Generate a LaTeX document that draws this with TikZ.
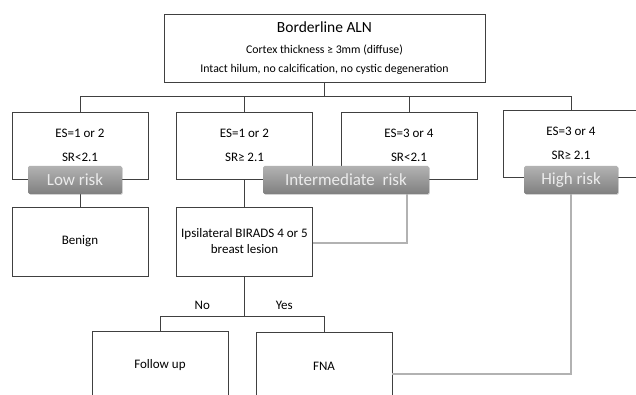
\documentclass[tikz,border=0pt]{standalone}
\usepackage{fontspec}
\setmainfont{Carlito}
\usetikzlibrary{shadows}

\begin{document}
\begin{tikzpicture}[x=1pt,y=-1pt,
  box/.style={draw=black!75,line width=0.9pt,minimum width=136pt,minimum height=67pt,inner sep=0pt,align=center,font=\fontsize{13}{16}\selectfont},
  risk/.style={rounded corners=1.5pt,top color=black!30,bottom color=black!50,text=white!92!black,minimum width=94pt,minimum height=28pt,inner sep=0pt,font=\fontsize{17}{20}\selectfont,drop shadow={shadow xshift=0.8pt,shadow yshift=-0.8pt,opacity=0.35}},
  link/.style={draw=black!75,line width=0.9pt},
  hint/.style={draw=black!30,line width=1.1pt}]
\useasboundingbox (0,0) rectangle (636,395);
\fill[white] (0,0) rectangle (636,395);
\clip (0,0) rectangle (636,395);
\node[box,minimum width=321pt,minimum height=68pt,font=\fontsize{11.8}{19}\selectfont] (aln) at (324.5,48)
  {{\fontsize{15.5}{18}\selectfont Borderline ALN}\\[2pt]Cortex thickness ≥ 3mm (diffuse)\\Intact hilum, no calcification, no cystic degeneration};
\node[box] (es12a) at (80,145.5) {ES=1 or 2\\[8pt]SR<2.1};
\node[box] (es12b) at (244.5,145.5) {ES=1 or 2\\[8pt]SR≥ 2.1};
\node[box] (es34a) at (409,145.5) {ES=3 or 4\\[8pt]SR<2.1};
\node[box] (es34b) at (571,143.5) {ES=3 or 4\\[8pt]SR≥ 2.1};
\node[box,minimum height=69pt] (benign) at (80,241.5) {Benign};
\node[box,minimum height=69pt] (ipsi) at (244.5,241.5) {Ipsilateral BIRADS 4 or 5\\breast lesion};
\node[box,minimum height=68pt] (fup) at (160,365) {Follow up};
\node[box,minimum height=68pt] (fna) at (324,366) {FNA};
\draw[link] (aln.south) -- ++(0,14) coordinate (bus);
\draw[link] (bus) -| (es12a.north);
\draw[link] (bus) -| (es12b.north);
\draw[link] (bus) -| (es34a.north);
\draw[link] (bus) -| (es34b.north);
\draw[link] (es12a.south) -- (benign.north);
\draw[link] (es12b.south) -- (ipsi.north);
\draw[link] (ipsi.south) -- ++(0,40) coordinate (split);
\draw[link] (split) -| (fup.north) node[pos=0.25,above=3pt,font=\fontsize{13}{16}\selectfont] {No};
\draw[link] (split) -| (fna.north) node[pos=0.25,above=3pt,font=\fontsize{13}{16}\selectfont] {Yes};
\node[risk] (lowrisk) at (75,180) {Low risk};
\node[risk,minimum width=166pt] (midrisk) at (346,180) {Intermediate\ \ risk};
\node[risk] (highrisk) at (571,180) {High risk};
\draw[hint] ([xshift=61pt]midrisk.south) |- ([yshift=-1.5pt]ipsi.east);
\draw[hint] (highrisk.south) |- ([yshift=-8pt]fna.east);
\end{tikzpicture}
\end{document}
